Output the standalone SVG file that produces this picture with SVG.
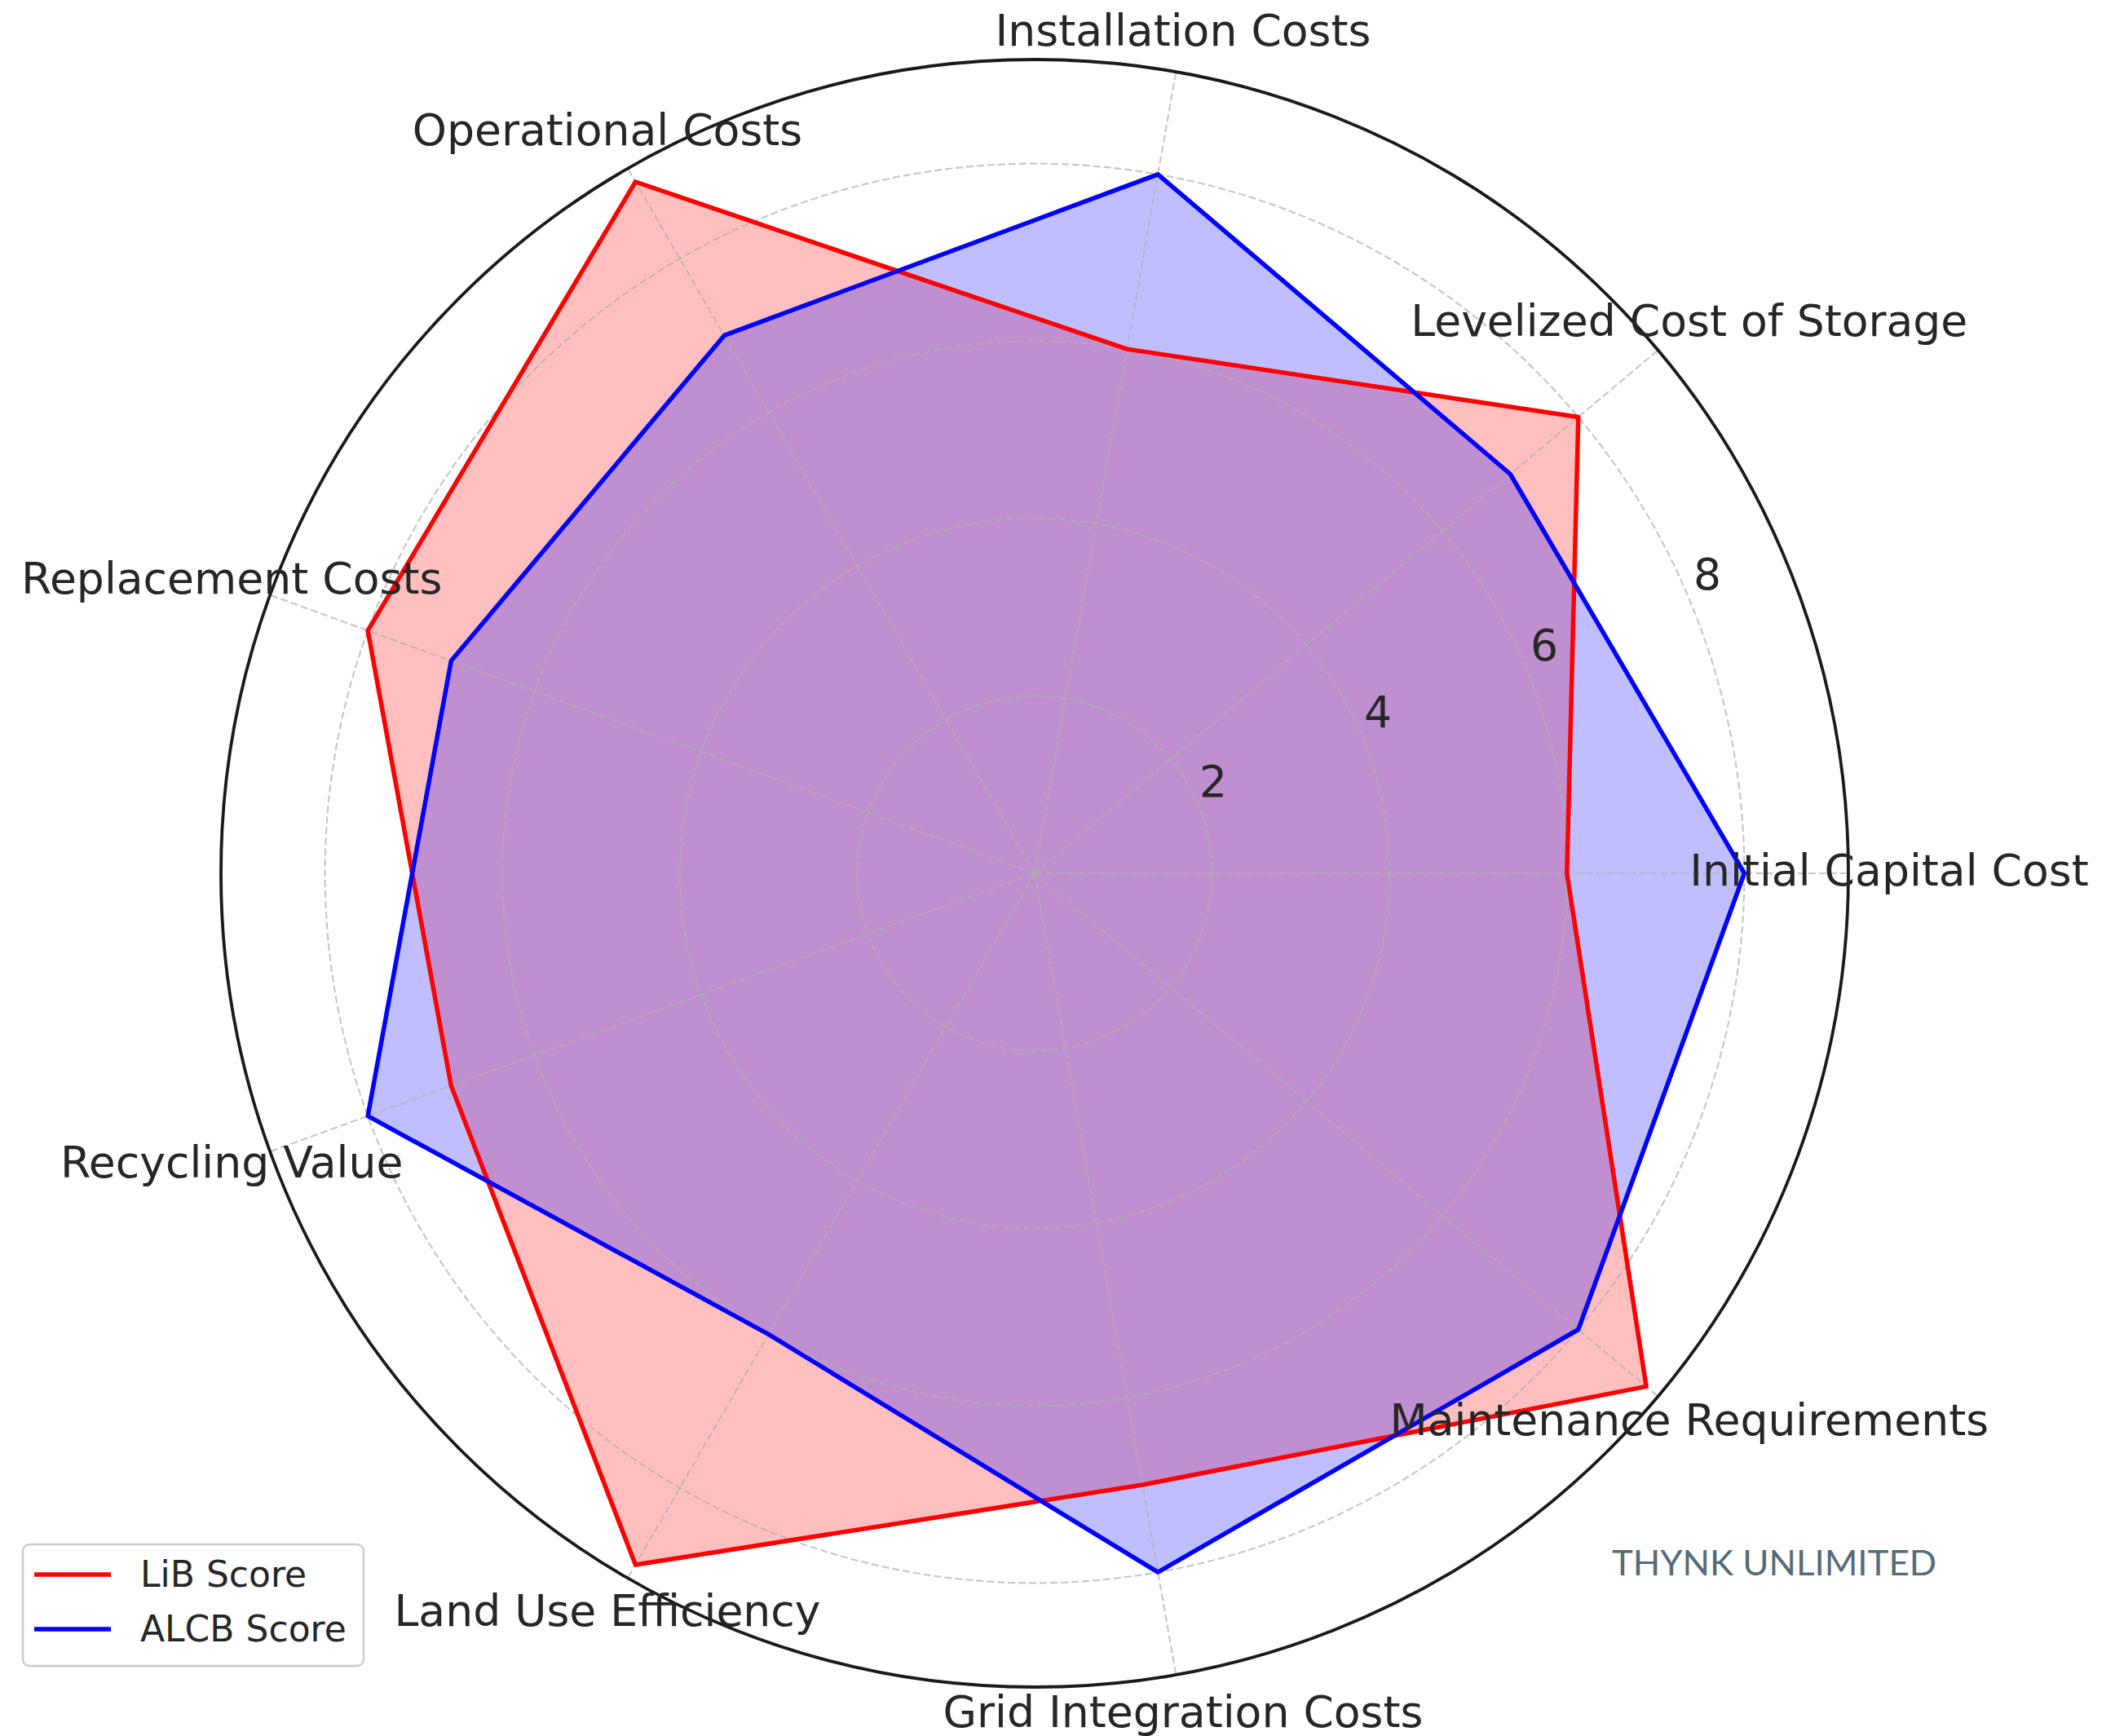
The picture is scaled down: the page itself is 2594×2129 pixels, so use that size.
<svg xmlns="http://www.w3.org/2000/svg" width="2594" height="2129" viewBox="0 0 2594 2129">
<style>
.grid{fill:none;stroke:#b0b0b0;stroke-opacity:0.7;stroke-width:2.2;stroke-dasharray:9 4}
.lbl{font-family:"DejaVu Sans",sans-serif;font-size:53.6px;fill:#262626;text-anchor:middle}
.tick{font-family:"DejaVu Sans",sans-serif;font-size:53.6px;fill:#262626;text-anchor:middle}
.leg{font-family:"DejaVu Sans",sans-serif;font-size:44px;fill:#262626}
.lib{fill:none;stroke:#ff0000;stroke-width:5.5;stroke-linejoin:round;stroke-linecap:round}
.alcb{fill:none;stroke:#0000ff;stroke-width:5.5;stroke-linejoin:round;stroke-linecap:round}
</style>
<rect width="2594" height="2129" fill="#ffffff"/>
<g id="fills">
<polygon points="1921.8,1071 1935.8,511.5 1382.4,428.1 779.4,223 451.1,773.3 553.3,1331.5 779.4,1919 1401.3,1821 2019.1,1700.4" fill="#ff0000" fill-opacity="0.25"/>
<polygon points="2139.4,1071 1852.4,581.5 1420.1,213.8 888.2,411.4 553.3,810.5 451.1,1368.7 942.6,1636.3 1420.1,1928.2 1935.8,1630.5" fill="#0000ff" fill-opacity="0.25"/>
</g>
<g id="grid">
<circle class="grid" cx="1269" cy="1071" r="217.6"/>
<circle class="grid" cx="1269" cy="1071" r="435.2"/>
<circle class="grid" cx="1269" cy="1071" r="652.8"/>
<circle class="grid" cx="1269" cy="1071" r="870.4"/>
<path class="grid" d="M1269,1071L2267,1071M1269,1071L2033.5,429.5M1269,1071L1442.3,88.2M1269,1071L770,206.7M1269,1071L331.2,729.7M1269,1071L331.2,1412.3M1269,1071L770,1935.3M1269,1071L1442.3,2053.8M1269,1071L2033.5,1712.5"/>
</g>
<g id="connectors">
<polygon id="lib-line" class="lib" points="1921.8,1071 1935.8,511.5 1382.4,428.1 779.4,223 451.1,773.3 553.3,1331.5 779.4,1919 1401.3,1821 2019.1,1700.4"/>
<polygon id="alcb-line" class="alcb" points="2139.4,1071 1852.4,581.5 1420.1,213.8 888.2,411.4 553.3,810.5 451.1,1368.7 942.6,1636.3 1420.1,1928.2 1935.8,1630.5"/>
</g>
<circle id="spine" cx="1269" cy="1071" r="998" fill="none" stroke="#1a1a1a" stroke-width="3.8"/>
<g id="radial-ticks">
<text class="tick" x="1488" y="977">2</text>
<text class="tick" x="1690" y="892">4</text>
<text class="tick" x="1894" y="810">6</text>
<text class="tick" x="2094" y="723">8</text>
</g>
<g id="n-initial"><text class="lbl" x="2317" y="1086">Initial Capital Cost</text></g>
<g id="n-levelized"><text class="lbl" x="2071.8" y="412.4">Levelized Cost of Storage</text></g>
<g id="n-installation"><text class="lbl" x="1451" y="56">Installation Costs</text></g>
<g id="n-operational"><text class="lbl" x="745" y="178.4">Operational Costs</text></g>
<g id="n-replacement"><text class="lbl" x="284.2" y="727.6">Replacement Costs</text></g>
<g id="n-recycling"><text class="lbl" x="284.2" y="1444.4">Recycling Value</text></g>
<g id="n-landuse"><text class="lbl" x="745" y="1993.6">Land Use Efficiency</text></g>
<g id="n-grid"><text class="lbl" x="1451" y="2118">Grid Integration Costs</text></g>
<g id="n-maintenance"><text class="lbl" x="2071.8" y="1759.6">Maintenance Requirements</text></g>
<g id="legend">
<rect x="28" y="1894" width="418" height="149" rx="8" fill="#ffffff" fill-opacity="0.8" stroke="#cccccc" stroke-width="2.5"/>
<line x1="42" y1="1931" x2="136" y2="1931" stroke="#ff0000" stroke-width="5.5"/>
<line x1="42" y1="1998" x2="136" y2="1998" stroke="#0000ff" stroke-width="5.5"/>
<text class="leg" x="172" y="1946">LiB Score</text>
<text class="leg" x="172" y="2013">ALCB Score</text>
</g>
<g id="watermark"><text x="1977" y="1932" font-family="Lato, 'Open Sans', sans-serif" font-size="42" font-weight="400" fill="#546b79" textLength="398" lengthAdjust="spacingAndGlyphs">THYNK UNLIMITED</text></g>
</svg>
